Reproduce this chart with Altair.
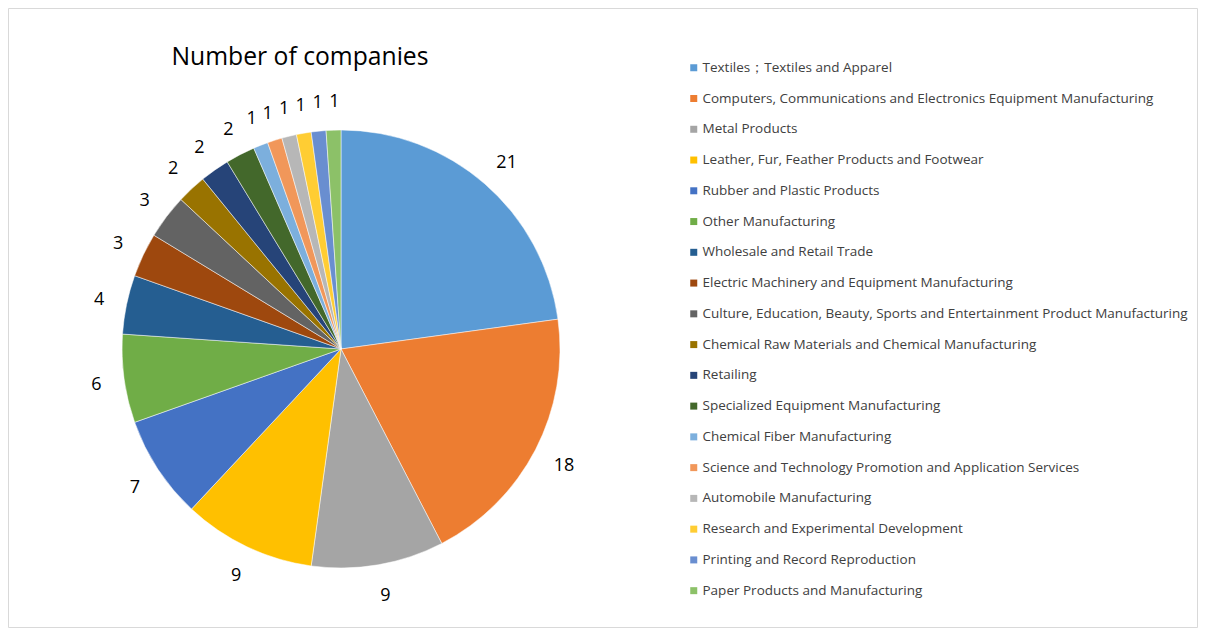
import altair as alt
import pandas as pd

categories = [
    "Textiles；Textiles and Apparel",
    "Computers, Communications and Electronics Equipment Manufacturing",
    "Metal Products",
    "Leather, Fur, Feather Products and Footwear",
    "Rubber and Plastic Products",
    "Other Manufacturing",
    "Wholesale and Retail Trade",
    "Electric Machinery and Equipment Manufacturing",
    "Culture, Education, Beauty, Sports and Entertainment Product Manufacturing",
    "Chemical Raw Materials and Chemical Manufacturing",
    "Retailing",
    "Specialized Equipment Manufacturing",
    "Chemical Fiber Manufacturing",
    "Science and Technology Promotion and Application Services",
    "Automobile Manufacturing",
    "Research and Experimental Development",
    "Printing and Record Reproduction",
    "Paper Products and Manufacturing",
]
values = [21, 18, 9, 9, 7, 6, 4, 3, 3, 2, 2, 2, 1, 1, 1, 1, 1, 1]
colors = [
    "#5B9BD5", "#ED7D31", "#A5A5A5", "#FFC000", "#4472C4", "#70AD47",
    "#255E91", "#9E480E", "#636363", "#997300", "#264478", "#43682B",
    "#7CAFDD", "#F1975A", "#B7B7B7", "#FFCD33", "#698ED0", "#8CC168",
]
title_text = "Number of companies"

df = pd.DataFrame({"category": categories, "value": values, "idx": list(range(len(values)))})

CX, CY, R = 333, 341, 219

base = alt.Chart(df).encode(
    theta=alt.Theta("value:Q", stack=True),
    order=alt.Order("idx:Q"),
)

pie = base.mark_arc(outerRadius=R, stroke="#ffffff", strokeWidth=0.5).encode(
    x=alt.value(CX),
    y=alt.value(CY),
    color=alt.Color(
        "category:N",
        scale=alt.Scale(domain=categories, range=colors),
        sort=None,
        legend=alt.Legend(
            title=None,
            orient="none",
            legendX=679,
            legendY=53,
            symbolType="square",
            symbolSize=49,
            symbolStrokeWidth=0,
            labelFont="Open Sans",
            labelFontSize=13.5,
            labelColor="#404040",
            labelLimit=700,
            rowPadding=15.76,
            labelOffset=2,
            padding=0,
            offset=0,
        ),
    ),
)

labels = base.mark_text(radius=249, fontSize=18, font="Open Sans", color="#000000").encode(
    x=alt.value(CX + 2),
    y=alt.value(CY + 2),
    text=alt.Text("value:Q"),
)

title_df = pd.DataFrame({"t": [title_text]})
title = alt.Chart(title_df).mark_text(
    fontSize=24.7, font="Open Sans", color="#000000", align="center", baseline="middle"
).encode(x=alt.value(292), y=alt.value(50), text="t:N")

chart = alt.layer(pie, labels, title).properties(
    width=1189, height=619,
    padding={"left": 0, "top": 0, "right": 2, "bottom": 2},
    autosize="none",
).configure_view(stroke="#d9d9d9", strokeWidth=1)

chart.save("out.html", embed_options={"renderer": "svg", "actions": False})
